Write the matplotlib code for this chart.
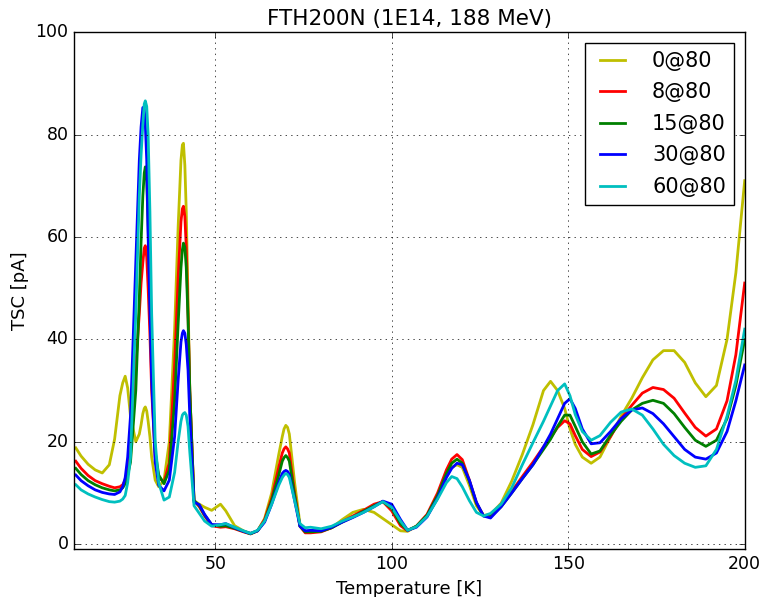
import matplotlib
matplotlib.use("Agg")
import matplotlib.pyplot as plt

plt.style.use("classic")

# temperature grid [K]
temp = [10.5, 12, 14, 16, 18, 20, 21.5, 23,
        23.8, 24.5, 25.2, 26, 27.5, 28.5, 29.0, 29.5, 29.9, 30.2, 30.6, 31, 31.5, 32, 33, 34,
        35.5, 37, 38.5, 39.5, 40.3, 40.7, 41, 41.4, 41.8, 42.3, 42.8,
        44, 45.5, 47, 49, 51.5, 53, 55.5, 58, 60, 62, 64, 66, 68, 69, 69.5, 70, 70.5, 71,
        72.5, 74, 75.5, 77,
        80, 83, 86, 89, 92, 95, 97.5, 100, 102.5, 104.5, 107, 110, 113, 115.5, 117, 118.5,
        120, 122, 124, 126, 128, 131, 134, 137, 140, 143, 145, 147, 149, 150.5, 152, 154,
        156.5, 159, 162, 165, 168, 171, 174, 177, 180, 183, 186, 189, 192, 195, 197.5, 200]

tsc_0 = [18.8, 17.2, 15.6, 14.5, 13.9, 15.5, 20.5, 29.0,
         31.5, 32.8, 30.5, 25.0, 20.0, 21.5, 23.3, 25.5, 26.5, 26.8, 26.0, 24.0, 21.0, 17.0,
         12.5, 11.2, 12.5, 20.0, 42.0, 62.0, 75.0, 78.0, 78.3, 74.0, 65.0, 48.0, 30.0,
         8.5, 7.8, 7.2, 6.6, 7.8, 6.5, 3.6, 2.6, 2.1, 2.6, 5.0, 10.0, 17.5, 21.0, 22.5, 23.2,
         22.8, 21.5, 12.0, 4.0, 2.5, 2.5,
         2.6, 3.2, 4.8, 6.2, 6.8, 6.2, 5.0, 3.8, 2.6, 2.5, 3.5, 5.5, 9.0, 13.2, 15.0, 15.5,
         15.0, 11.5, 7.5, 5.6, 5.8, 8.0, 12.3, 17.5, 23.3, 30.0, 31.8, 30.0, 26.5, 22.5, 19.5,
         17.0, 15.8, 17.0, 21.0, 25.0, 28.5, 32.5, 36.0, 37.8, 37.8, 35.5, 31.5, 28.8, 31.0,
         40.0, 53.0, 71.0]

tsc_8 = [16.2, 14.8, 13.4, 12.4, 11.8, 11.3, 11.0, 11.2,
         11.6, 12.5, 14.5, 18.0, 35.0, 45.0, 51.0, 55.0, 57.8, 58.3, 56.0, 50.0, 41.0, 30.0,
         17.0, 13.0, 12.1, 16.0, 35.0, 52.0, 63.0, 65.5, 66.0, 64.0, 58.0, 45.0, 30.0,
         8.5, 7.3, 5.5, 3.6, 3.3, 3.4, 3.0, 2.4, 2.0, 2.6, 4.8, 9.0, 15.0, 17.8, 18.6, 19.0,
         18.6, 17.8, 10.0, 3.5, 2.2, 2.2,
         2.4, 3.2, 4.4, 5.5, 6.6, 7.8, 8.3, 6.5, 3.6, 2.6, 3.5, 5.8, 10.0, 14.5, 16.6, 17.5,
         16.5, 12.5, 8.0, 5.6, 5.4, 7.8, 10.3, 13.2, 16.0, 19.0, 20.8, 22.8, 24.1, 23.5, 21.2,
         18.5, 17.1, 18.0, 21.0, 24.5, 27.1, 29.5, 30.6, 30.2, 28.5, 25.6, 22.8, 21.1, 22.5,
         28.0, 37.0, 51.0]

tsc_15 = [14.8, 13.6, 12.4, 11.6, 11.0, 10.6, 10.4, 10.6,
          11.0, 11.8, 13.5, 16.0, 30.0, 48.0, 59.0, 68.0, 72.5, 73.7, 71.0, 62.0, 49.0, 35.0,
          18.0, 13.5, 11.8, 14.5, 28.0, 43.0, 54.0, 57.5, 58.8, 58.0, 54.0, 44.0, 30.0,
          8.5, 7.5, 5.7, 3.8, 3.5, 3.6, 3.1, 2.5, 2.0, 2.6, 4.5, 8.5, 13.5, 16.2, 16.9, 17.3,
          16.9, 16.2, 9.5, 3.5, 2.4, 2.4,
          2.5, 3.2, 4.3, 5.3, 6.4, 7.5, 8.3, 7.0, 4.0, 2.7, 3.5, 5.6, 9.5, 13.8, 15.8, 16.6,
          15.8, 12.3, 8.0, 5.5, 5.3, 7.3, 10.0, 12.8, 15.5, 18.5, 20.5, 23.0, 25.2, 25.2, 23.0,
          20.0, 17.6, 18.2, 21.3, 24.0, 26.2, 27.5, 28.1, 27.5, 25.5, 22.8, 20.3, 19.1, 20.3,
          24.5, 31.0, 40.0]

tsc_30 = [13.5, 12.4, 11.4, 10.6, 10.1, 9.8, 9.7, 10.2,
          11.2, 13.0, 17.0, 25.0, 55.0, 75.0, 81.5, 85.3, 85.0, 82.0, 75.0, 60.0, 46.0, 32.0,
          16.0, 11.5, 10.4, 12.5, 21.0, 32.0, 39.5, 41.2, 41.7, 41.2, 39.0, 34.0, 25.0,
          8.2, 7.7, 5.8, 3.8, 3.8, 4.0, 3.2, 2.5, 2.1, 2.6, 4.3, 7.8, 12.0, 13.8, 14.2, 14.4,
          14.2, 13.6, 8.5, 3.5, 2.6, 2.7,
          2.6, 3.3, 4.3, 5.2, 6.2, 7.3, 8.4, 7.8, 4.8, 2.7, 3.3, 5.3, 9.0, 13.0, 14.8, 15.8,
          15.5, 12.5, 8.2, 5.5, 5.1, 7.3, 10.0, 12.8, 15.5, 19.0, 21.5, 24.5, 27.5, 28.4, 26.5,
          22.5, 19.6, 19.8, 22.0, 24.5, 26.2, 26.6, 25.5, 23.5, 21.0, 18.5, 17.0, 16.6, 17.8,
          22.0, 28.0, 35.0]

tsc_60 = [11.6, 10.6, 9.8, 9.2, 8.7, 8.3, 8.2, 8.4,
          8.8, 9.5, 12.0, 17.0, 45.0, 68.0, 76.0, 82.0, 86.0, 86.6, 85.5, 80.0, 65.0, 45.0,
          20.0, 12.0, 8.6, 9.2, 14.0, 20.0, 24.0, 25.2, 25.5, 25.7, 25.2, 23.0, 18.0,
          7.5, 6.0, 4.5, 3.5, 3.8, 4.0, 3.3, 2.6, 2.1, 2.7, 4.5, 7.8, 11.5, 13.0, 13.5, 13.8,
          13.6, 13.0, 8.5, 4.0, 3.2, 3.3,
          3.0, 3.5, 4.5, 5.3, 6.2, 7.3, 8.3, 7.2, 4.5, 2.7, 3.4, 5.4, 8.8, 12.0, 13.2, 12.8,
          11.2, 8.5, 6.2, 5.5, 6.0, 7.8, 11.0, 15.5, 19.8, 24.0, 27.0, 30.0, 31.3, 29.0, 25.3,
          22.0, 20.3, 21.2, 23.8, 25.8, 26.4, 25.2, 22.5, 19.5, 17.3, 15.8, 15.0, 15.3, 18.5,
          25.0, 32.0, 42.0]

labels = ["0@80", "8@80", "15@80", "30@80", "60@80"]
colors = ["y", "r", "g", "b", "c"]

fig = plt.figure(figsize=(7.63, 5.97), dpi=100, facecolor="white")
ax = fig.add_axes([0.097, 0.080, 0.879, 0.866])

for ys, lab, col in zip([tsc_0, tsc_8, tsc_15, tsc_30, tsc_60], labels, colors):
    ax.plot(temp, ys, color=col, lw=2, label=lab, solid_joinstyle="round")

ax.set_xlim(10, 200)
ax.set_ylim(-1, 100)
ax.set_xticks([50, 100, 150, 200])
ax.set_yticks([0, 20, 40, 60, 80, 100])
ax.tick_params(labelsize=12.5)
ax.grid(True)
ax.set_xlabel("Temperature [K]", fontsize=13)
ax.set_ylabel("TSC [pA]", fontsize=13)
ax.set_title("FTH200N (1E14, 188 MeV)", fontsize=15.5)
ax.legend(loc="upper right", fontsize=15, handlelength=1.8, handletextpad=1.0,
          labelspacing=0.55)

fig.savefig("out.png", dpi=100, facecolor="white")
